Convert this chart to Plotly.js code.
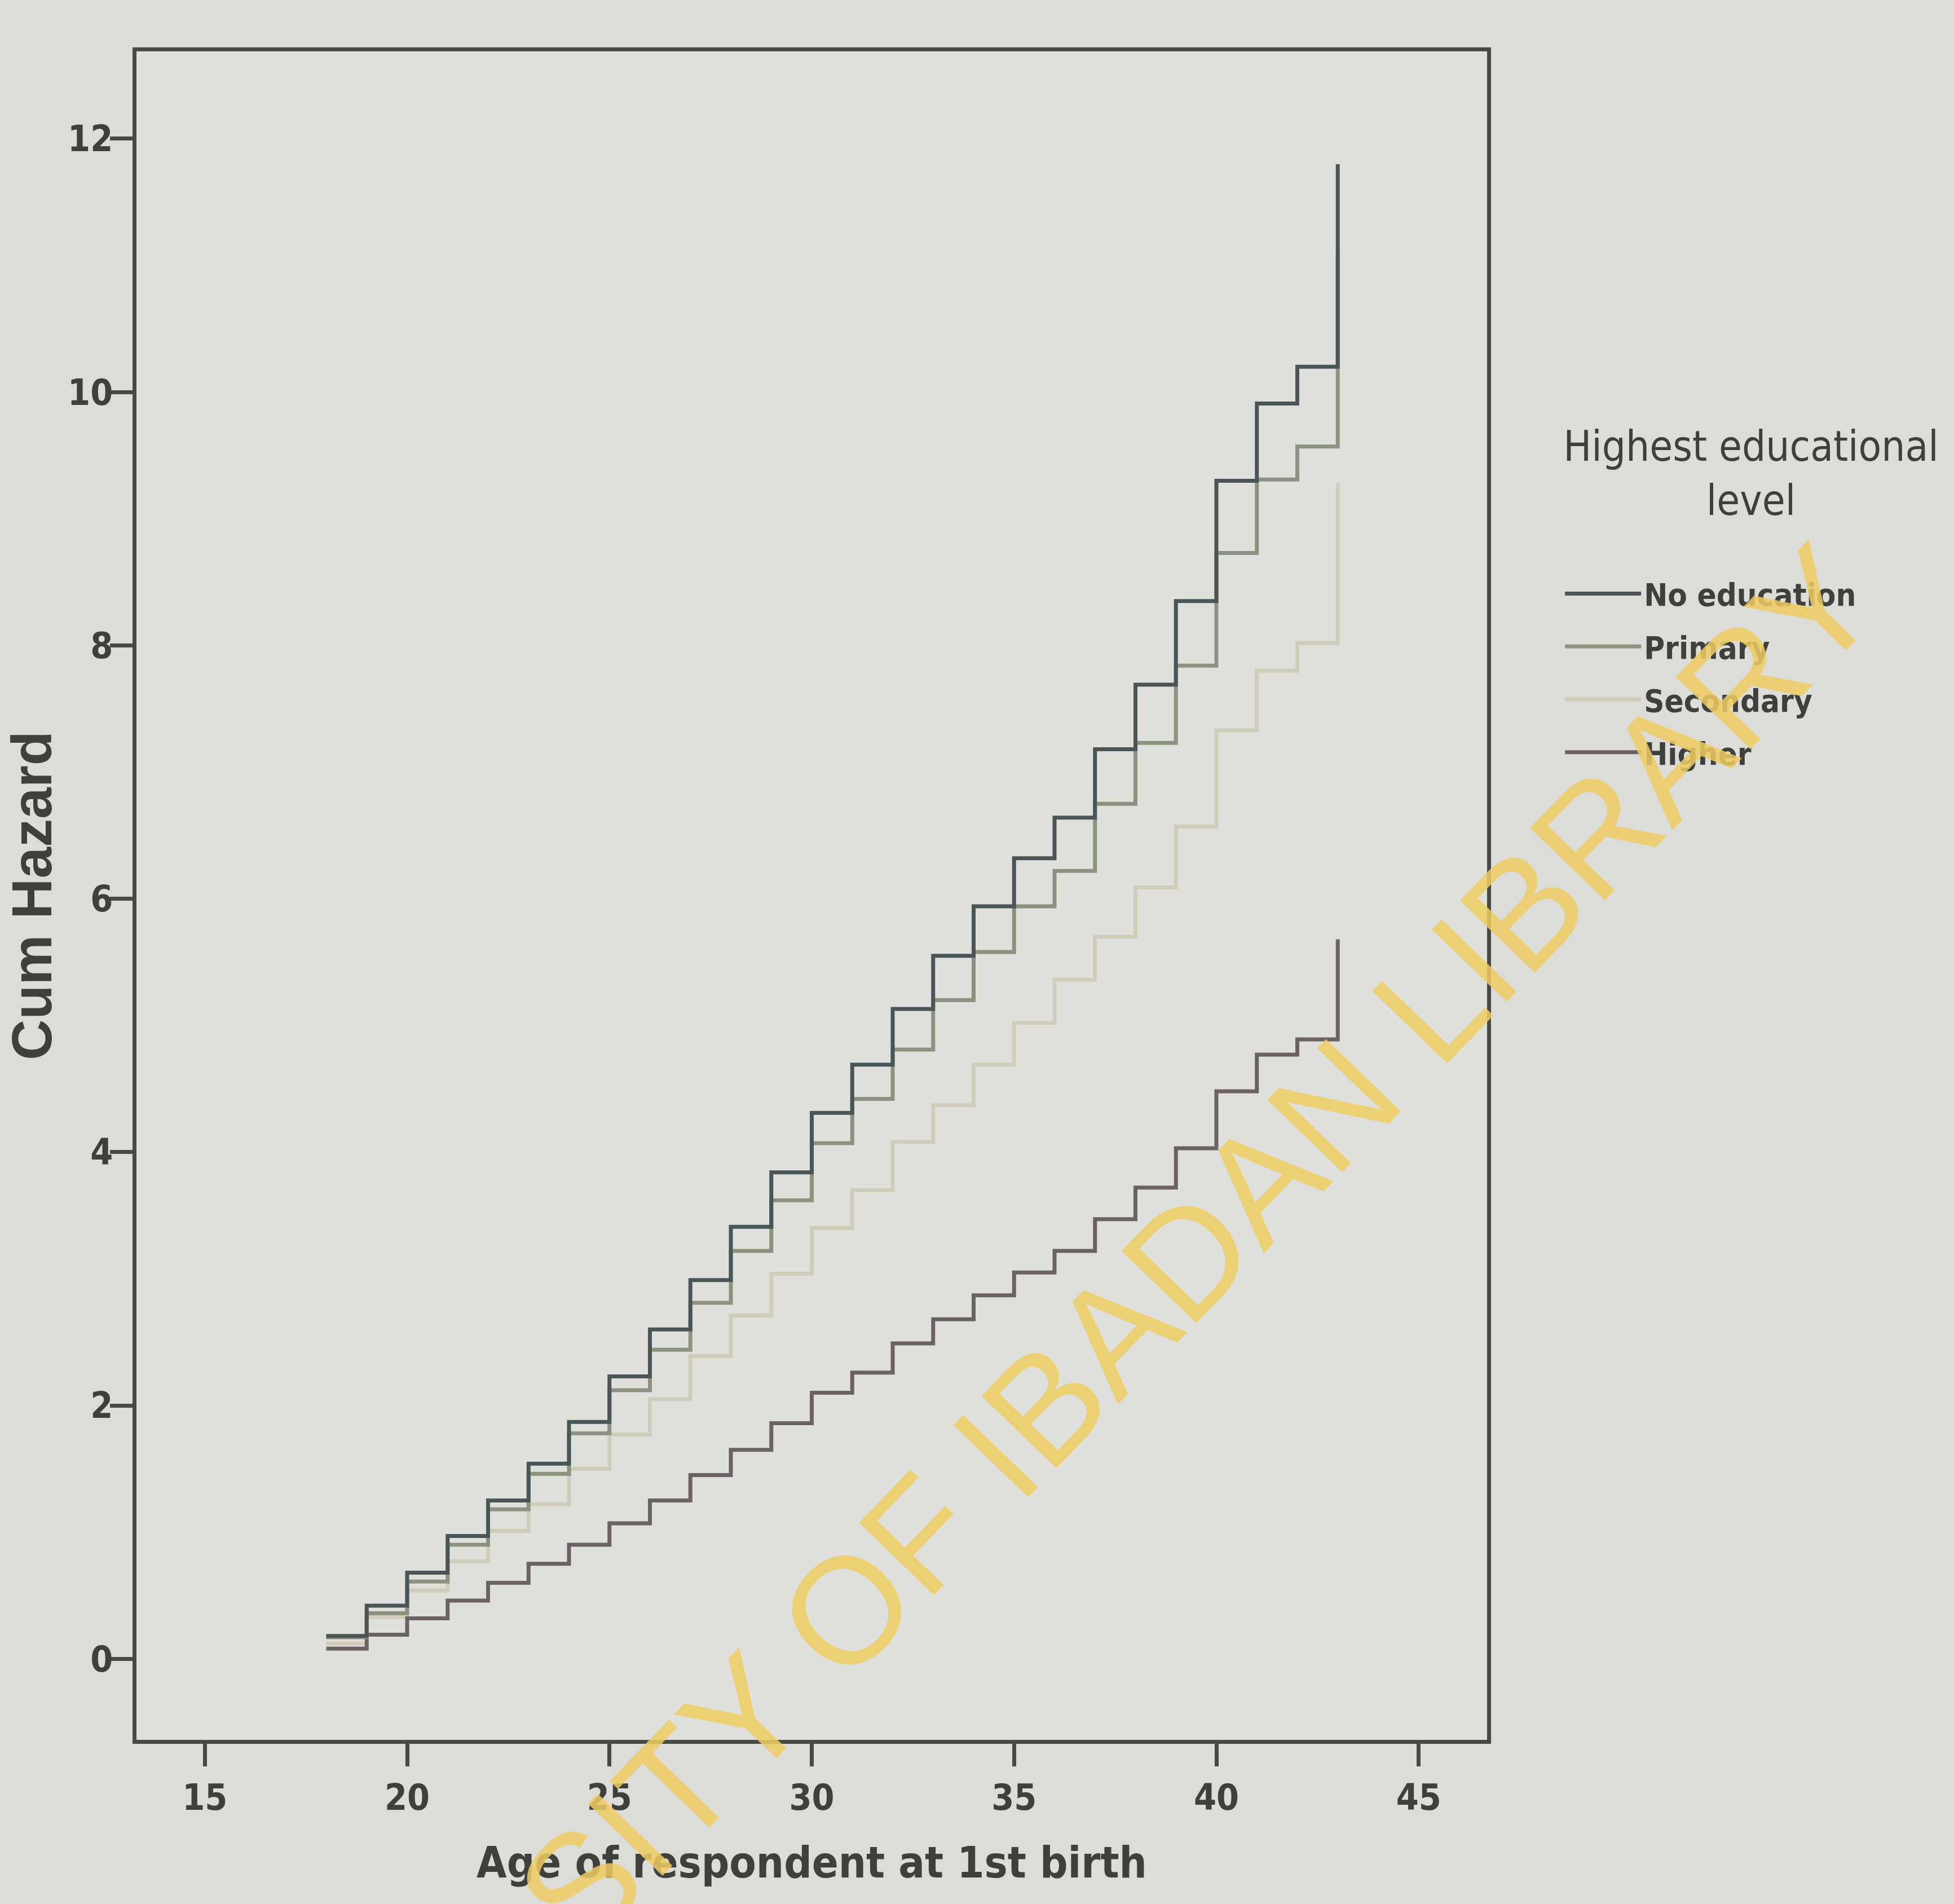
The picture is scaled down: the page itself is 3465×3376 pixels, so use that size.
<!DOCTYPE html>
<html>
<head>
<meta charset="utf-8">
<script src="https://cdn.plot.ly/plotly-3.0.1.min.js"></script>
<style>
html,body{margin:0;padding:0;background:#dcddd9;}
#chart{width:3465px;height:3376px;}
</style>
</head>
<body>
<div id="chart"></div>
<script>
// Age of respondent at 1st birth (step positions)
const ages = [18,19,20,21,22,23,24,25,26,27,28,29,30,31,32,33,34,35,36,37,38,39,40,41,42,43];
// Cumulative hazard by highest educational level
const noEducation = [0.18,0.42,0.68,0.97,1.25,1.54,1.87,2.23,2.60,2.99,3.41,3.84,4.31,4.69,5.13,5.55,5.94,6.32,6.64,7.18,7.69,8.35,9.30,9.91,10.20,11.80];
const primary     = [0.17,0.36,0.61,0.90,1.18,1.46,1.78,2.12,2.44,2.81,3.22,3.62,4.07,4.42,4.81,5.20,5.58,5.94,6.22,6.75,7.23,7.84,8.73,9.31,9.57,11.10];
const secondary   = [0.12,0.33,0.54,0.77,1.01,1.22,1.50,1.77,2.05,2.39,2.71,3.04,3.40,3.70,4.08,4.37,4.69,5.02,5.36,5.70,6.09,6.57,7.33,7.80,8.02,9.28];
const higher      = [0.08,0.19,0.32,0.46,0.60,0.75,0.90,1.07,1.25,1.45,1.65,1.86,2.10,2.26,2.49,2.68,2.87,3.05,3.22,3.47,3.72,4.03,4.48,4.77,4.89,5.68];

const xTicks = [15,20,25,30,35,40,45];
const yTicks = [0,2,4,6,8,10,12];

const narrow = '"DejaVu Sans Condensed", "Liberation Sans", Arial, sans-serif';
const regular = '"Liberation Sans", Arial, sans-serif';
const ink = '#3f403d';
const frame = '#474945';
const nb = '\u00a0';

function stepTrace(name, ys, color, rank) {
  return {x: ages, y: ys, name: name, type: 'scatter', mode: 'lines',
          legendgroup: 'g' + rank,
          line: {shape: 'hv', color: color, width: 7}, legendrank: rank};
}

const data = [
  stepTrace('Secondary', secondary, '#cfcdba', 3),
  stepTrace('Higher', higher, '#6c6165', 4),
  stepTrace('Primary', primary, '#8b937f', 2),
  stepTrace('No education', noEducation, '#4a5557', 1)
];

const layout = {
  width: 3465, height: 3376,
  paper_bgcolor: '#dcddd9', plot_bgcolor: '#dfe0dc',
  margin: {l: 242, r: 828, t: 91, b: 291, autoexpand: false},
  showlegend: true,
  font: {family: narrow, color: ink},
  xaxis: {
    range: [13.31, 46.69], tickvals: xTicks, ticktext: xTicks.map(String),
    ticks: 'outside', ticklen: 40, tickwidth: 7, tickcolor: frame,
    showline: true, mirror: true, linecolor: frame, linewidth: 7,
    showgrid: false, zeroline: false,
    tickfont: {family: narrow, size: 64, weight: 700, color: ink},
    title: {text: 'Age of respondent at 1st birth', standoff: 55,
            font: {family: narrow, size: 77, weight: 700, color: ink}}
  },
  yaxis: {
    range: [-0.64, 12.69], tickvals: yTicks, ticktext: yTicks.map(String),
    ticks: 'outside', ticklen: 40, tickwidth: 7, tickcolor: frame,
    ticklabelstandoff: -18,
    showline: true, mirror: true, linecolor: frame, linewidth: 7,
    showgrid: false, zeroline: false,
    tickfont: {family: narrow, size: 64, weight: 700, color: ink},
    title: {text: 'Cum Hazard', standoff: 30,
            font: {family: regular, size: 100, weight: 700, color: ink}}
  },
  legend: {
    x: 1.0556, y: 0.7896, xanchor: 'left', yanchor: 'top',
    bgcolor: 'rgba(0,0,0,0)', borderwidth: 0,
    itemwidth: 135, traceorder: 'grouped', tracegroupgap: 18,
    font: {family: narrow, size: 56, weight: 700, color: ink},
    title: {text: 'Highest educational<br>' + nb.repeat(12) + 'level<br>' + nb, side: 'top',
            font: {family: narrow, size: 74, weight: 400, color: ink}}
  },
  annotations: [{
    text: 'UNIVERSITY OF IBADAN LIBRARY', xref: 'paper', yref: 'paper',
    x: 0.638, y: 0.170, xanchor: 'center', yanchor: 'middle',
    textangle: -46, showarrow: false,
    font: {family: regular, size: 268, color: 'rgba(238,204,98,0.85)'}
  }]
};

Plotly.newPlot('chart', data, layout, {displayModeBar: false, staticPlot: true});
</script>
</body>
</html>
